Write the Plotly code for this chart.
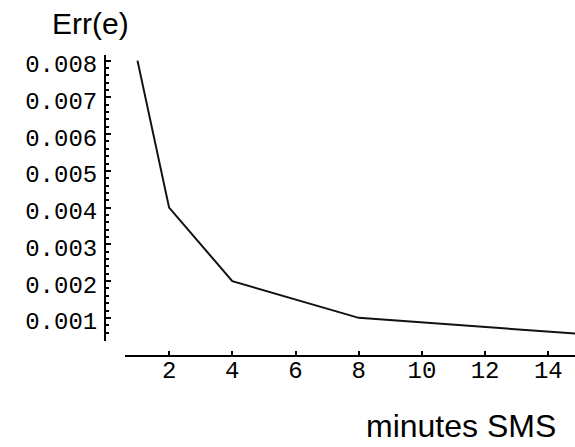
import plotly.graph_objects as go

# Data
minutes = [1, 2, 4, 8, 16]
err = [0.008, 0.004, 0.002, 0.001, 0.0005]
x_ticks = [2, 4, 6, 8, 10, 12, 14]
y_ticks = [0.001, 0.002, 0.003, 0.004, 0.005, 0.006, 0.007, 0.008]
y_tick_text = ["0.001", "0.002", "0.003", "0.004", "0.005", "0.006", "0.007", "0.008"]

W, H = 575, 447

fig = go.Figure()
fig.add_trace(go.Scatter(
    x=minutes, y=err, mode="lines",
    line=dict(color="#111111", width=2),
    showlegend=False, hoverinfo="skip",
))

tick_font = dict(family="Liberation Mono, Courier New, monospace", size=24, color="#000000")

fig.update_layout(
    width=W, height=H,
    margin=dict(l=0, r=0, t=0, b=0),
    paper_bgcolor="white",
    plot_bgcolor="rgba(0,0,0,0)",
    xaxis=dict(
        domain=[125 / W, 1.0],
        range=[(125 - 105.9) / 31.6, (575 - 105.9) / 31.6],
        anchor="free",
        position=1 - 355 / H,
        showline=True, linecolor="#000000", linewidth=2,
        showgrid=False, zeroline=False,
        tickmode="array", tickvals=x_ticks,
        ticks="inside", ticklen=4, tickwidth=1.5, tickcolor="#000000",
        tickfont=tick_font,
        ticklabelstandoff=-7,
    ),
    yaxis=dict(
        domain=[1 - 340 / H, 1 - 52 / H],
        range=[(354 - 340) / 37000, (354 - 52) / 37000],
        anchor="free",
        position=105 / W,
        showline=True, linecolor="#000000", linewidth=2,
        showgrid=False, zeroline=False,
        tickmode="array", tickvals=y_ticks, ticktext=y_tick_text,
        ticks="inside", ticklen=5, tickwidth=1.5, tickcolor="#000000",
        minor=dict(tick0=0, dtick=0.0002, ticks="inside", ticklen=3,
                   tickwidth=1.5, tickcolor="#000000", showgrid=False),
        tickfont=tick_font,
        ticklabelstandoff=2,
        ticklabelshift=3,
    ),
    annotations=[
        dict(text="Err(e)", x=90 / W, y=1 - 21 / H, xref="paper", yref="paper",
             xanchor="center", yanchor="middle", showarrow=False,
             font=dict(family="Liberation Sans, Arial, sans-serif", size=30, color="#000000")),
        dict(text="minutes SMS", x=461 / W, y=1 - 426 / H, xref="paper", yref="paper",
             xanchor="center", yanchor="middle", showarrow=False,
             font=dict(family="Liberation Sans, Arial, sans-serif", size=32, color="#000000")),
    ],
)

fig.write_html("out.html")
